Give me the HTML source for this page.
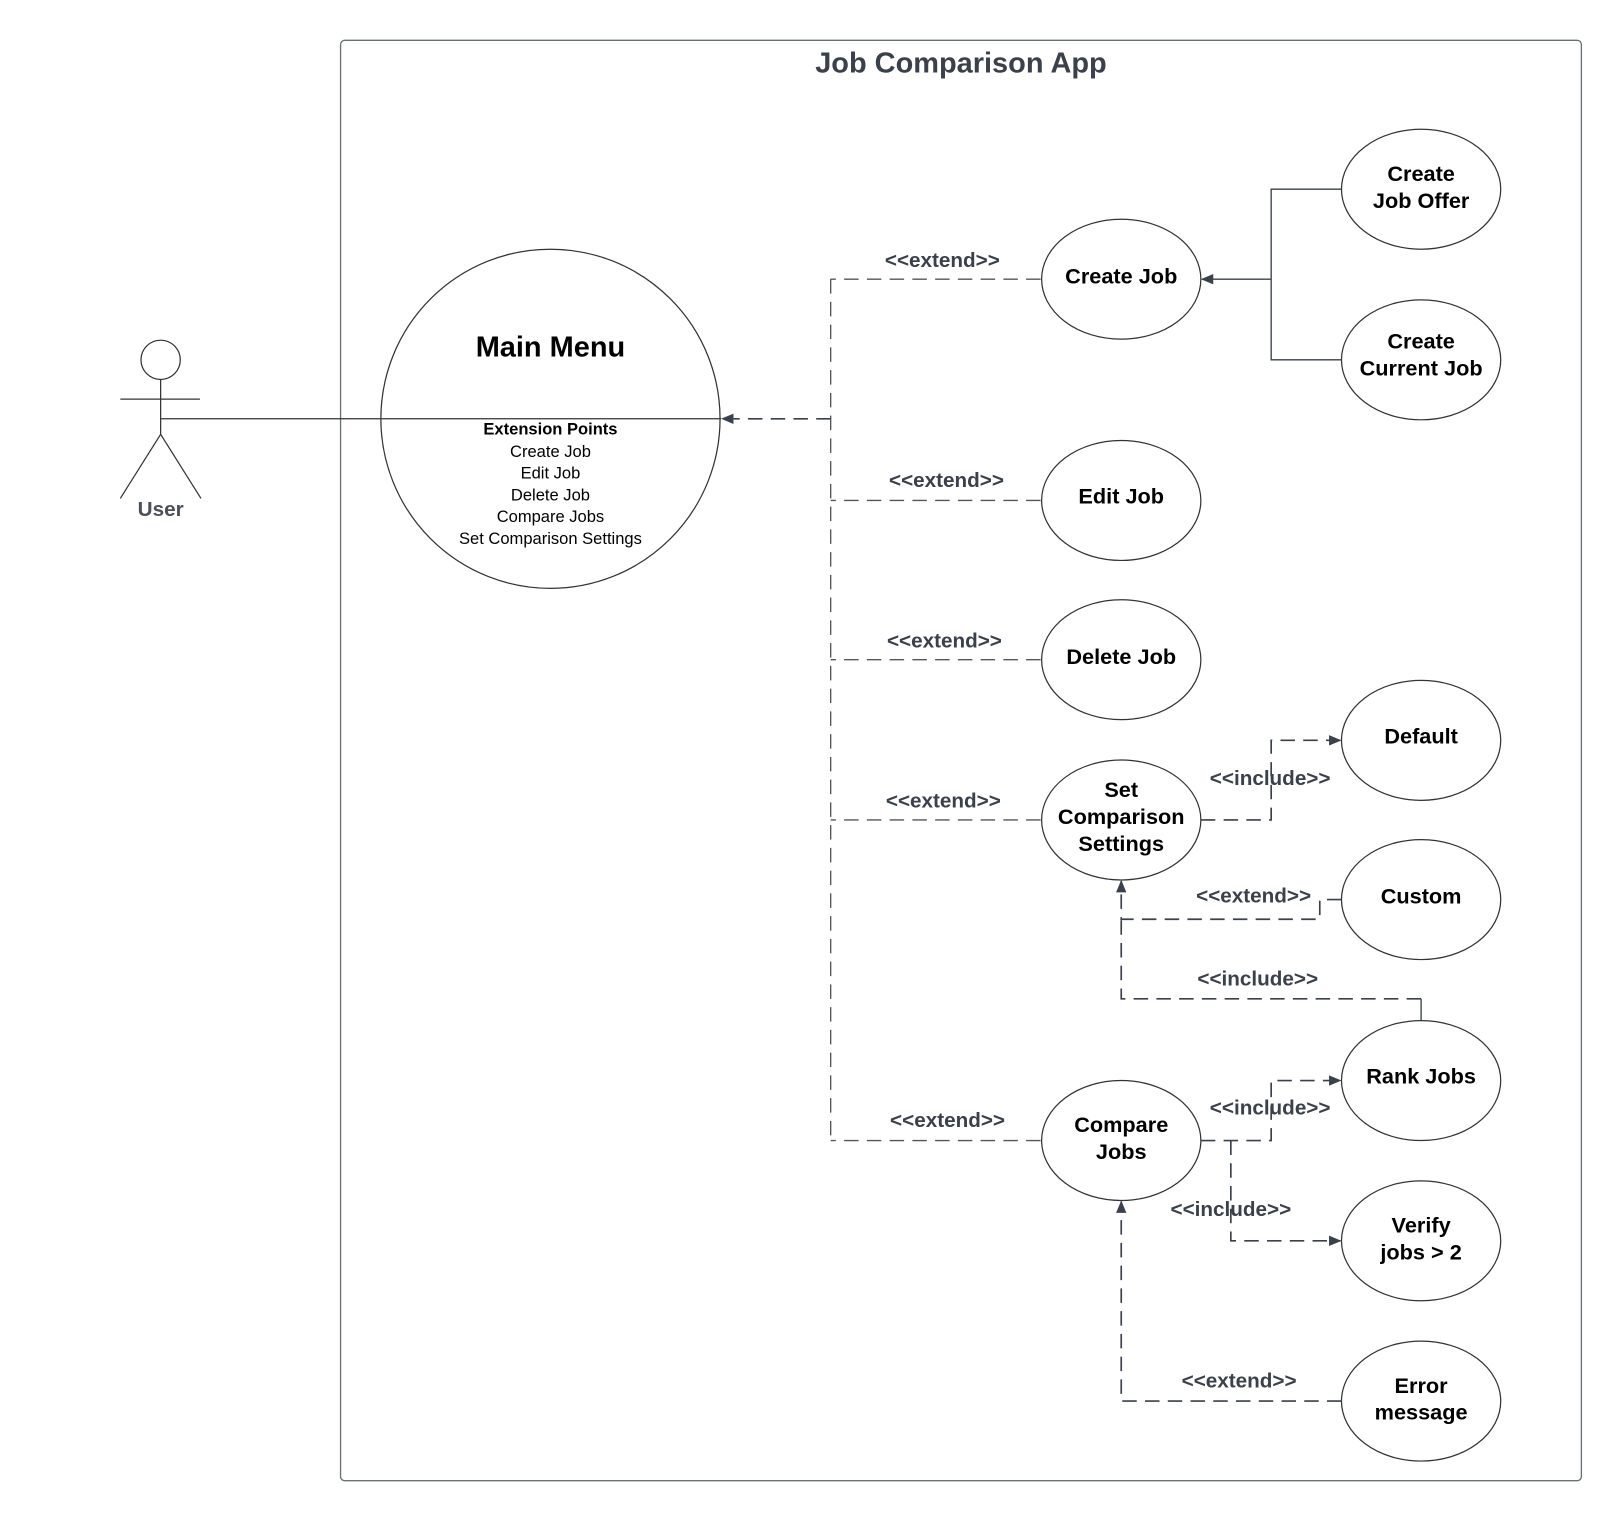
<!DOCTYPE html>
<html><head><style>body{margin:0;background:#fff}svg{display:block}</style></head><body>
<svg width="1620" height="1520" viewBox="0 0 1566 1470" xmlns="http://www.w3.org/2000/svg" font-family="Liberation Sans, sans-serif">
<defs><marker id="a" markerWidth="12" markerHeight="10" refX="11" refY="5" orient="auto" markerUnits="userSpaceOnUse"><path d="M0,0 L12,5 L0,10 z" fill="#3a414a"/></marker></defs>
<rect x="329" y="39" width="1200" height="1393" rx="4" fill="none" stroke="#6b7078" stroke-width="1.3"/>
<text x="929" y="70" font-size="28" font-weight="bold" fill="#3a414a" text-anchor="middle">Job Comparison App</text>
<g stroke="#333" stroke-width="1.2" fill="none">
<circle cx="155" cy="348" r="19"/><line x1="155" y1="367" x2="155" y2="420"/><line x1="116" y1="386" x2="193" y2="386"/>
<line x1="155" y1="420" x2="116" y2="482"/><line x1="155" y1="420" x2="194" y2="482"/>
<line x1="155" y1="405" x2="697" y2="405"/>
<circle cx="532" cy="405" r="164"/>
<ellipse cx="1084" cy="270" rx="77" ry="58"/><ellipse cx="1084" cy="484" rx="77" ry="58"/><ellipse cx="1084" cy="638" rx="77" ry="58"/><ellipse cx="1084" cy="793" rx="77" ry="58"/><ellipse cx="1084" cy="1103" rx="77" ry="58"/>
<ellipse cx="1374" cy="183" rx="77" ry="58"/><ellipse cx="1374" cy="348" rx="77" ry="58"/><ellipse cx="1374" cy="716" rx="77" ry="58"/><ellipse cx="1374" cy="870" rx="77" ry="58"/><ellipse cx="1374" cy="1045" rx="77" ry="58"/><ellipse cx="1374" cy="1200" rx="77" ry="58"/><ellipse cx="1374" cy="1355" rx="77" ry="58"/>
</g>
<text x="155" y="499" font-size="20" font-weight="bold" fill="#4a5059" text-anchor="middle">User</text>
<g text-anchor="middle" fill="#000">
<text x="532" y="345" font-size="28" font-weight="bold">Main Menu</text>
<text x="532" y="420" font-size="16" font-weight="bold">Extension Points</text>
<g font-size="16"><text x="532" y="442">Create Job</text><text x="532" y="463">Edit Job</text><text x="532" y="484">Delete Job</text><text x="532" y="505">Compare Jobs</text><text x="532" y="526">Set Comparison Settings</text></g>
<g font-size="21" font-weight="bold">
<text x="1084" y="274">Create Job</text><text x="1084" y="487">Edit Job</text><text x="1084" y="642">Delete Job</text>
<text x="1084" y="771">Set</text><text x="1084" y="797">Comparison</text><text x="1084" y="823">Settings</text>
<text x="1084" y="1095">Compare</text><text x="1084" y="1121">Jobs</text>
<text x="1374" y="175">Create</text><text x="1374" y="201">Job Offer</text>
<text x="1374" y="337">Create</text><text x="1374" y="363">Current Job</text>
<text x="1374" y="719">Default</text><text x="1374" y="874">Custom</text><text x="1374" y="1048">Rank Jobs</text>
<text x="1374" y="1192">Verify</text><text x="1374" y="1218">jobs &gt; 2</text>
<text x="1374" y="1347">Error</text><text x="1374" y="1373">message</text>
</g></g>
<g stroke="#555" stroke-width="1.3" fill="none" stroke-dasharray="14,8">
<path d="M803,270 V1103"/>
<path d="M1006,270 H803"/><path d="M1006,484 H803"/><path d="M1006,638 H803"/><path d="M1006,793 H803"/><path d="M1006,1103 H803"/>
</g>
<g stroke="#3a414a" stroke-width="1.6" fill="none" stroke-dasharray="14,8">
<path d="M803,405 H698" marker-end="url(#a)"/>
<path d="M1161,793 H1229 V716 H1296" marker-end="url(#a)"/>
<path d="M1297,870 H1276 V889 H1084 V852" marker-end="url(#a)"/>
<path d="M1374,966 H1084 V889"/>
<path d="M1161,1103 H1229 V1045 H1296" marker-end="url(#a)"/>
<path d="M1190,1103 V1200 H1296" marker-end="url(#a)"/>
<path d="M1297,1355 H1084 V1162" marker-end="url(#a)"/>
</g>
<g stroke="#3a414a" stroke-width="1.3" fill="none">
<path d="M1374,987 V966"/>
<path d="M1297,183 H1229 V348 H1297"/><path d="M1229,270 H1162" marker-end="url(#a)"/>
</g>
<g font-size="20" font-weight="bold" fill="#3a414a" text-anchor="middle">
<text x="911" y="258">&lt;&lt;extend&gt;&gt;</text><text x="915" y="471">&lt;&lt;extend&gt;&gt;</text><text x="913" y="626">&lt;&lt;extend&gt;&gt;</text><text x="912" y="781">&lt;&lt;extend&gt;&gt;</text><text x="916" y="1090">&lt;&lt;extend&gt;&gt;</text>
<text x="1228" y="759">&lt;&lt;include&gt;&gt;</text><text x="1212" y="873">&lt;&lt;extend&gt;&gt;</text><text x="1216" y="953">&lt;&lt;include&gt;&gt;</text>
<text x="1228" y="1078">&lt;&lt;include&gt;&gt;</text><text x="1190" y="1176">&lt;&lt;include&gt;&gt;</text><text x="1198" y="1342">&lt;&lt;extend&gt;&gt;</text>
</g>
</svg>
</body></html>
